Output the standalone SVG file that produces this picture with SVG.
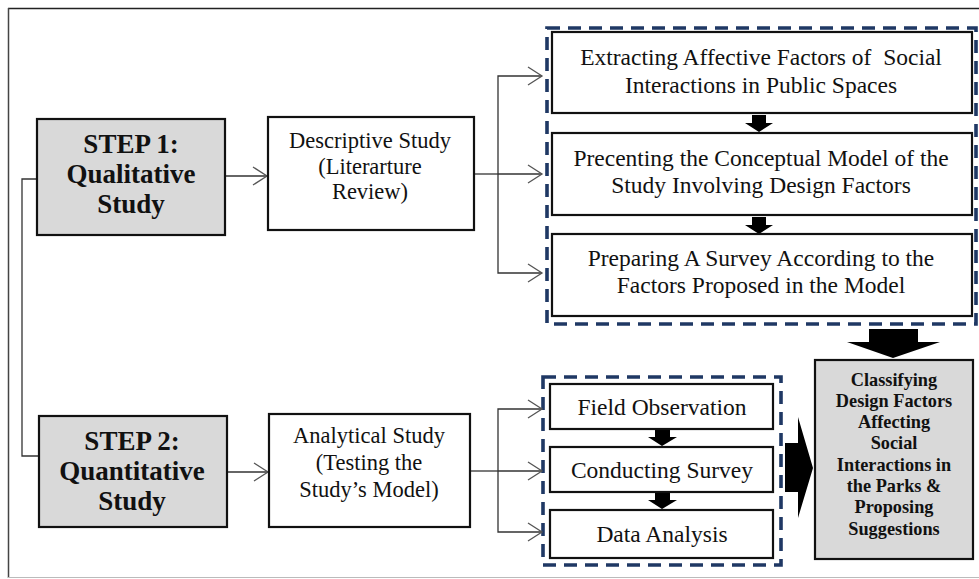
<svg xmlns="http://www.w3.org/2000/svg" width="979" height="579" viewBox="0 0 979 579">
<style>
.box{fill:#fff;stroke:#111;stroke-width:2.2}
.grey{fill:#d9d9d9;stroke:#111;stroke-width:2.2}
.dash{fill:none;stroke:#1f3864;stroke-width:3.6;stroke-dasharray:13 8}
.ln{fill:none;stroke:#333;stroke-width:1.3}
.hd{fill:none;stroke:#555;stroke-width:1.3}
.blk{fill:#000}
text{font-family:"Liberation Serif","Times New Roman",serif;fill:#111;text-anchor:middle}
.b27{font-size:27px;font-weight:bold}
.r22{font-size:22.5px}
.r23{font-size:23.5px}
.b18{font-size:18.3px;font-weight:bold}
</style>
<rect width="979" height="579" fill="#fff"/>
<g id="frame">
<line x1="8" y1="8.5" x2="979" y2="8.5" stroke="#222" stroke-width="1.3"/>
<line x1="8.5" y1="8" x2="8.5" y2="578" stroke="#444" stroke-width="1.5"/>
<line x1="8" y1="577.5" x2="979" y2="577.5" stroke="#bbb" stroke-width="1.2"/>
</g>
<g id="groups">
<rect class="dash" x="547" y="28" width="429" height="296"/>
<rect class="dash" x="543" y="377" width="238" height="188"/>
</g>
<g id="connectors">
<polyline class="ln" points="37,179 22,179 22,456 39,456"/>
<line class="ln" x1="225" y1="176" x2="267" y2="176"/>
<polyline class="hd" points="253,167 267,176 253,185"/>
<line class="ln" x1="474" y1="174" x2="498" y2="174"/>
<polyline class="ln" points="542,76 498,76 498,273 542,273"/>
<line class="ln" x1="498" y1="174" x2="542" y2="174"/>
<polyline class="hd" points="528,67 542,76 528,85"/>
<polyline class="hd" points="528,165 542,174 528,183"/>
<polyline class="hd" points="528,264 542,273 528,282"/>
<line class="ln" x1="227" y1="472" x2="268" y2="472"/>
<polyline class="hd" points="254,463 268,472 254,481"/>
<line class="ln" x1="470" y1="471" x2="498" y2="471"/>
<polyline class="ln" points="542,409 498,409 498,532 542,532"/>
<line class="ln" x1="498" y1="471" x2="542" y2="471"/>
<polyline class="hd" points="528,400 542,409 528,418"/>
<polyline class="hd" points="528,462 542,471 528,480"/>
<polyline class="hd" points="528,523 542,532 528,541"/>
<polygon class="blk" points="752,115 766,115 766,123 773,123 759,132 745,123 752,123"/>
<polygon class="blk" points="752,217 766,217 766,225 773,225 759,234 745,225 752,225"/>
<polygon class="blk" points="655,430 670,430 670,437 677,437 662,446 648,437 655,437"/>
<polygon class="blk" points="655,493 670,493 670,500 677,500 662,509 648,500 655,500"/>
<polygon class="blk" points="869,329 918,329 918,342 940,342 893,358 847,342 869,342"/>
<polygon class="blk" points="785,443 798,443 798,417 813,468 798,518 798,492 785,492"/>
</g>
<g id="step1">
<rect class="grey" x="37" y="119" width="188" height="116"/>
<text class="b27" x="131" y="153">STEP 1:</text>
<text class="b27" x="131" y="183">Qualitative</text>
<text class="b27" x="131" y="213">Study</text>
</g>
<g id="descriptive">
<rect class="box" x="268" y="117" width="206" height="113"/>
<text class="r22" x="370" y="148">Descriptive Study</text>
<text class="r22" x="370" y="174">(Literarture</text>
<text class="r22" x="370" y="199">Review)</text>
</g>
<g id="extracting">
<rect class="box" x="552" y="32" width="420" height="81"/>
<text class="r23" x="761" y="65" xml:space="preserve">Extracting Affective Factors of  Social</text>
<text class="r23" x="761" y="93">Interactions in Public Spaces</text>
</g>
<g id="precenting">
<rect class="box" x="552" y="133" width="420" height="82"/>
<text class="r23" x="761" y="166">Precenting the Conceptual Model of the</text>
<text class="r23" x="761" y="193">Study Involving Design Factors</text>
</g>
<g id="preparing">
<rect class="box" x="552" y="234" width="420" height="82"/>
<text class="r23" x="761" y="266">Preparing A Survey According to the</text>
<text class="r23" x="761" y="293">Factors Proposed in the Model</text>
</g>
<g id="step2">
<rect class="grey" x="39" y="416" width="188" height="111"/>
<text class="b27" x="132" y="450">STEP 2:</text>
<text class="b27" x="132" y="480">Quantitative</text>
<text class="b27" x="132" y="510">Study</text>
</g>
<g id="analytical">
<rect class="box" x="269" y="414" width="201" height="113"/>
<text class="r22" x="369" y="443">Analytical Study</text>
<text class="r22" x="369" y="470">(Testing the</text>
<text class="r22" x="369" y="497">Study’s Model)</text>
</g>
<g id="field">
<rect class="box" x="550" y="384" width="223" height="45"/>
<text class="r23" x="662" y="415">Field Observation</text>
</g>
<g id="conducting">
<rect class="box" x="550" y="447" width="223" height="45"/>
<text class="r23" x="662" y="478">Conducting Survey</text>
</g>
<g id="data">
<rect class="box" x="550" y="510" width="223" height="48"/>
<text class="r23" x="662" y="542">Data Analysis</text>
</g>
<g id="classifying">
<rect class="grey" x="815" y="360" width="158" height="199"/>
<text class="b18" x="894" y="386">Classifying</text>
<text class="b18" x="894" y="407">Design Factors</text>
<text class="b18" x="894" y="428">Affecting</text>
<text class="b18" x="894" y="449">Social</text>
<text class="b18" x="894" y="471">Interactions in</text>
<text class="b18" x="894" y="492">the Parks &amp;</text>
<text class="b18" x="894" y="513">Proposing</text>
<text class="b18" x="894" y="535">Suggestions</text>
</g>
</svg>
